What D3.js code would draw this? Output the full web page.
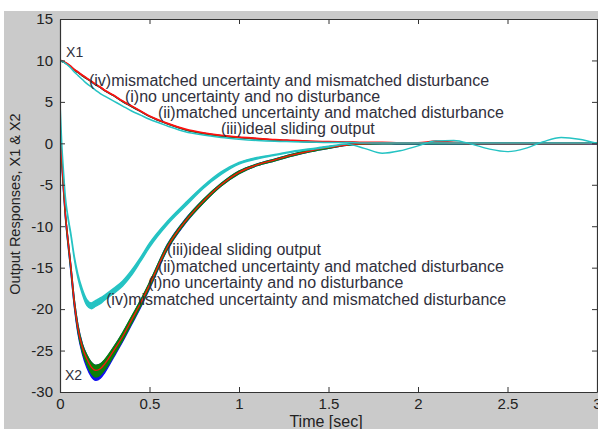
<!DOCTYPE html>
<html lang="en">
<head>
<meta charset="UTF-8">
<title>Output Responses</title>
<script src="https://d3js.org/d3.v7.min.js"></script>
<style>
	body { margin: 0; background: #fff; }
	svg text { font-family: Arial, "Liberation Sans", sans-serif; }
</style>
</head>
<body>
<div id="chart"></div>
<script>
// time samples (sec)
const time = [0,0.01,0.02,0.03,0.045,0.06,0.08,0.1,0.125,0.15,0.175,0.2,0.225,0.25,0.3,0.35,0.4,0.45,0.5,
	0.6,0.7,0.8,0.9,1.0,1.1,1.2,1.3,1.4,1.5,1.6,1.7,1.8,1.9,2.0,2.1,2.2,2.3,2.4,2.5,2.6,2.7,2.8,2.9,3.0]

// X1 responses
const redX1 = [10,9.95,9.85,9.75,9.55,9.3,8.9,8.6,8.2,7.85,7.5,7.1,6.8,6.4,5.8,5.1,4.5,3.9,3.3,
	2.4,1.7,1.25,0.95,0.75,0.6,0.45,0.35,0.25,0.2,0.15,0.1,0.1,0.05,0.05,0.25,0.1,0,0,0,0,0,0,0,0]
const blueX1 = [10,9.9,9.8,9.7,9.5,9.25,8.85,8.55,8.15,7.8,7.45,7.05,6.75,6.35,5.75,5.05,4.45,3.85,3.25,
	2.35,1.65,1.2,0.9,0.7,0.55,0.4,0.3,0.2,0.15,0.1,0.05,0.05,0,0,0,0,0,0,0,0,0,0,0,0]
const greenX1 = [10,9.9,9.8,9.7,9.5,9.25,8.85,8.55,8.15,7.8,7.45,7.05,6.75,6.35,5.75,5.05,4.45,3.85,3.25,
	2.35,1.65,1.2,0.9,0.7,0.55,0.4,0.3,0.2,0.15,0.1,0.05,0.05,0,0,0,0,0,0,0,0,0,0,0,0.05]
const cyanX1 = [10,9.9,9.8,9.65,9.4,9.1,8.6,8.2,7.7,7.2,6.8,6.4,6.0,5.7,5.1,4.5,3.9,3.4,2.9,
	2.1,1.4,1.0,0.7,0.5,0.35,0.25,0.2,0.15,0.1,0.1,0.05,0.05,0.05,0.05,0.05,0.05,0.05,0.05,0.05,0.05,0.05,0.05,0.05,0.05]

// X2 responses
const redX2 = [2,-2,-5.5,-8.5,-11.8,-14.8,-19.2,-22.3,-24.6,-26.0,-27.0,-27.4,-27.2,-26.6,-25.0,-23.3,-21.3,-19.3,-17.1,
	-12.5,-9.4,-7.0,-5.0,-3.5,-2.6,-2.0,-1.4,-0.9,-0.5,-0.2,-0.05,0.05,0.05,0.05,0.05,0,0,0,0,0,0,0,0,0]
const greenX2 = [2,-2.2,-5.6,-8.6,-11.9,-14.9,-19.2,-22.3,-24.7,-26.1,-27.1,-27.5,-27.3,-26.7,-25.1,-23.3,-21.3,-19.3,-17.1,
	-12.5,-9.4,-7.0,-5.0,-3.5,-2.6,-2.0,-1.4,-0.9,-0.5,-0.2,-0.05,0,0,0,0,0,0,0,0,0,0,0,0,0]
const blueX2 = [2,-2.3,-5.7,-8.7,-12.0,-15.0,-19.3,-22.4,-24.8,-26.3,-27.3,-27.7,-27.5,-26.9,-25.2,-23.4,-21.4,-19.4,-17.2,
	-12.5,-9.4,-7.0,-5.0,-3.5,-2.6,-2.0,-1.4,-0.9,-0.5,-0.2,-0.05,0,0,0,0,0,0,0,0,0,0,0,0,0]
const cyanX2 = [5,0,-3.5,-6.5,-9.0,-10.9,-13.8,-16.0,-17.9,-19.2,-19.6,-19.3,-19.0,-18.6,-17.8,-16.9,-15.6,-14.0,-12.3,
	-9.6,-7.4,-5.3,-3.6,-2.4,-1.8,-1.4,-1.0,-0.7,-0.4,-0.1,-0.6,-1.2,-0.9,-0.3,0.3,0.35,-0.1,-0.7,-1.0,-0.6,0.2,0.7,0.5,0.0]

// chattering half-widths
const greenSpread = [0,0.1,0.15,0.2,0.25,0.25,0.3,0.35,0.45,0.55,0.65,0.7,0.65,0.6,0.5,0.45,0.4,0.35,0.3,
	0.25,0.2,0.2,0.15,0.15,0.1,0.1,0.1,0.1,0.1,0.05,0.05,0.05,0.05,0.05,0.05,0.05,0.05,0.05,0.05,0.05,0.05,0.05,0.05,0.05]
const blueSpread = [0,0.15,0.2,0.25,0.3,0.35,0.4,0.5,0.6,0.75,0.85,0.9,0.85,0.75,0.6,0.5,0.45,0.4,0.35,
	0.3,0.25,0.2,0.15,0.15,0.1,0.1,0.1,0.1,0.1,0.05,0.05,0.05,0.05,0.05,0.05,0.05,0.05,0.05,0.05,0.05,0.05,0.05,0.05,0.05]
const cyanSpread = [0,0.05,0.1,0.1,0.15,0.15,0.2,0.25,0.3,0.35,0.35,0.35,0.35,0.3,0.3,0.3,0.3,0.25,0.25,
	0.2,0.2,0.15,0.15,0.1,0.1,0.05,0.05,0.05,0.05,0,0,0,0,0,0,0,0,0,0,0,0,0,0,0]

// ticks
const xTicks = [0,0.5,1,1.5,2,2.5,3]
const yTicks = [15,10,5,0,-5,-10,-15,-20,-25,-30]

// annotations (text, time, value)
const labels = [
	{text: '(iv)mismatched uncertainty and mismatched disturbance', t: 0.162, v: 6.91},
	{text: '(i)no uncertainty and no disturbance', t: 0.363, v: 4.98},
	{text: '(ii)matched uncertainty and matched disturbance', t: 0.547, v: 3.05},
	{text: '(iii)ideal sliding output', t: 0.899, v: 1.12},
	{text: '(iii)ideal sliding output', t: 0.598, v: -13.48},
	{text: '(ii)matched uncertainty and matched disturbance', t: 0.547, v: -15.53},
	{text: '(i)no uncertainty and no disturbance', t: 0.492, v: -17.46},
	{text: '(iv)mismatched uncertainty and mismatched disturbance', t: 0.257, v: -19.51}
]
const curveNames = [
	{text: 'X1', t: 0.034, v: 10.41},
	{text: 'X2', t: 0.028, v: -28.55}
]

const W = 598, H = 429
const plot = {left: 60, right: 597, top: 19, bottom: 392}
const colors = {red: '#ff1010', green: '#0a800a', blue: '#1010f0', cyan: '#25c3c3', text: '#30303c'}

const svg = d3.select('#chart').append('svg').attr('width', W).attr('height', H)

// figure background
svg.append('rect').attr('x', 4).attr('y', 11).attr('width', W - 4).attr('height', H - 11).attr('fill', '#cacaca')
svg.append('rect').attr('x', plot.left).attr('y', plot.top)
	.attr('width', plot.right - plot.left).attr('height', plot.bottom - plot.top).attr('fill', '#fff')

const x = d3.scaleLinear().domain([0, 3]).range([plot.left, plot.right])
const y = d3.scaleLinear().domain([-30, 15]).range([plot.bottom, plot.top])

const g = svg.append('g')
g.append('clipPath').attr('id', 'clip').append('rect')
	.attr('x', plot.left).attr('y', plot.top).attr('width', plot.right - plot.left).attr('height', plot.bottom - plot.top)
const lines = g.append('g').attr('clip-path', 'url(#clip)')

const line = d3.line().x((d, i) => x(time[i])).y(d => y(d)).curve(d3.curveMonotoneX)
function band(center, spread) {
	return d3.area().x((d, i) => x(time[i]))
		.y0((d, i) => y(center[i] - spread[i])).y1((d, i) => y(center[i] + spread[i]))
		.curve(d3.curveMonotoneX)(center)
}

function drawLine(data, color, width) {
	lines.append('path').attr('d', line(data)).attr('fill', 'none')
		.attr('stroke', color).attr('stroke-width', width).attr('stroke-linejoin', 'round')
}
function drawBand(center, spread, color) {
	lines.append('path').attr('d', band(center, spread)).attr('fill', color)
		.attr('stroke', color).attr('stroke-width', 1.4)
}

drawBand(blueX2, blueSpread, colors.blue)
drawBand(greenX2, greenSpread, colors.green)
drawLine(blueX1, colors.blue, 1.6)
drawLine(greenX1, colors.green, 1.6)
drawLine(redX1, colors.red, 1.8)
drawLine(redX2, colors.red, 1.3)
drawLine(cyanX1, colors.cyan, 1.5)
drawBand(cyanX2, cyanSpread, colors.cyan)

// axes, ticks pointing inward on all four sides
function styleAxis(sel) {
	sel.selectAll('path').attr('stroke', '#333').attr('stroke-width', 1.2)
	sel.selectAll('line').attr('stroke', '#333')
	sel.selectAll('text').attr('fill', '#222').style('font-size', '15px')
}
g.append('g').attr('transform', `translate(0,${plot.bottom})`)
	.call(d3.axisBottom(x).tickValues(xTicks).tickSize(-5).tickSizeOuter(0).tickPadding(6).tickFormat(d => String(d)))
	.call(styleAxis)
g.append('g').attr('transform', `translate(0,${plot.top})`)
	.call(d3.axisTop(x).tickValues(xTicks).tickSize(-5).tickSizeOuter(0).tickFormat(''))
	.call(styleAxis)
g.append('g').attr('transform', `translate(${plot.left},0)`)
	.call(d3.axisLeft(y).tickValues(yTicks).tickSize(-5).tickSizeOuter(0).tickPadding(7).tickFormat(d => String(d)))
	.call(styleAxis)
g.append('g').attr('transform', `translate(${plot.right},0)`)
	.call(d3.axisRight(y).tickValues(yTicks).tickSize(-5).tickSizeOuter(0).tickFormat(''))
	.call(styleAxis)
g.selectAll('.domain').attr('fill', 'none')

// annotations
svg.append('g').selectAll('text').data(labels).join('text')
	.attr('x', d => x(d.t)).attr('y', d => y(d.v))
	.attr('fill', colors.text).style('font-size', '16px')
	.text(d => d.text)
svg.append('g').selectAll('text').data(curveNames).join('text')
	.attr('x', d => x(d.t)).attr('y', d => y(d.v))
	.attr('fill', colors.text).style('font-size', '14px')
	.text(d => d.text)

// axis titles
svg.append('text').attr('x', 326).attr('y', 427).attr('text-anchor', 'middle')
	.attr('fill', '#222').style('font-size', '16px').text('Time [sec]')
svg.append('text').attr('transform', 'translate(20,204) rotate(-90)').attr('text-anchor', 'middle')
	.attr('fill', '#222').style('font-size', '14.5px').text('Output Responses, X1 & X2')
</script>
</body>
</html>
